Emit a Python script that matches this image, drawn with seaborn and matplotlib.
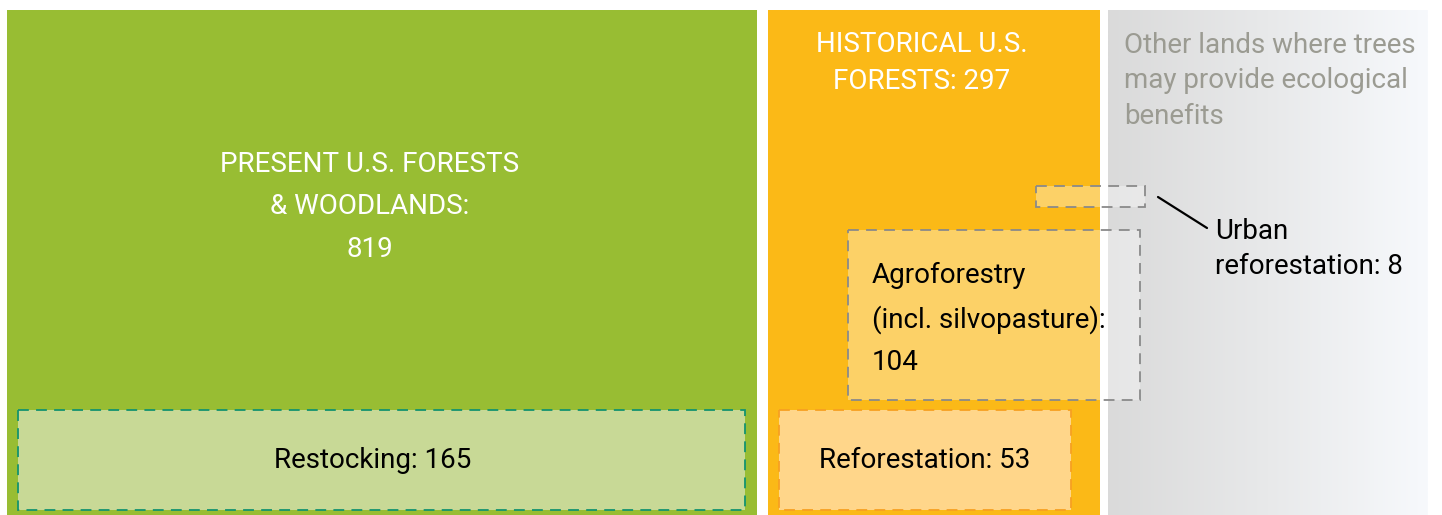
import numpy as np
import seaborn as sns
import matplotlib.pyplot as plt
from matplotlib.patches import Rectangle
from matplotlib.colors import LinearSegmentedColormap

# Data (million acres)
main_names = ["PRESENT U.S. FORESTS\n& WOODLANDS:", "HISTORICAL U.S.\nFORESTS:"]
main_values = [819, 297]
other_label = "Other lands where trees\nmay provide ecological\nbenefits"
opp_names = ["Restocking", "Reforestation", "Agroforestry\n(incl. silvopasture)", "Urban\nreforestation"]
opp_values = [165, 53, 104, 8]

sns.set_theme(style="white")
plt.rcParams["font.family"] = ["Roboto", "DejaVu Sans"]

W, H = 1442, 515
fig = plt.figure(figsize=(W / 100, H / 100), dpi=100)
ax = fig.add_axes([0, 0, 1, 1])
ax.set_xlim(0, W)
ax.set_ylim(H, 0)
ax.axis("off")

green = "#98bd33"
orange = "#fbb917"

# layout: (x, y, w, h) in pixel units
main_boxes = [(7, 10, 750, 505), (768, 10, 332, 505)]
other_box = (1108, 10, 320, 505)
opp_boxes = [(18, 410, 727, 100), (779, 410, 292, 100), (848, 230, 292, 170), (1036, 186, 109, 21)]

for (x, y, w, h), c in zip(main_boxes, [green, orange]):
    ax.add_patch(Rectangle((x, y), w, h, facecolor=c, edgecolor="none"))

# gray gradient block
cmap = LinearSegmentedColormap.from_list("g", ["#dadada", "#e8e9ea", "#f7f9fc"])
x, y, w, h = other_box
ax.imshow(np.linspace(0, 1, 256)[None, :], cmap=cmap, aspect="auto",
          extent=(x, x + w, y + h, y), zorder=1)

# opportunity boxes
x, y, w, h = opp_boxes[0]
ax.add_patch(Rectangle((x, y), w, h, facecolor="#c8d996", edgecolor="#13936f",
                       lw=1.3, ls=(0, (6, 4)), zorder=3))
x, y, w, h = opp_boxes[1]
ax.add_patch(Rectangle((x, y), w, h, facecolor="#ffd68a", edgecolor="#f7a021",
                       lw=1.3, ls=(0, (6, 4)), zorder=3))
for x, y, w, h in opp_boxes[2:]:
    ax.add_patch(Rectangle((x, y), w, h, facecolor=(1, 1, 1, 0.35), edgecolor="#8a8a8a",
                           lw=1.3, ls=(0, (6, 4)), zorder=3))

# leader line for urban
ax.plot([1158, 1207], [197, 228], color="black", lw=1.6, zorder=4)

fs = 20
ax.text(370, 207, f"{main_names[0]}\n{main_values[0]}", color="white", ha="center",
        va="center", fontsize=fs, linespacing=1.72, zorder=5)
ax.text(922, 63, f"{main_names[1]} {main_values[1]}", color="white", ha="center",
        va="center", fontsize=fs, linespacing=1.45, zorder=5)
ax.text(1124, 81, other_label, color="#9b9b92", ha="left", va="center",
        fontsize=fs, linespacing=1.4, zorder=5)

ax.text(373, 460, f"{opp_names[0]}: {opp_values[0]}", color="black", ha="center",
        va="center", fontsize=fs, zorder=5)
ax.text(925, 460, f"{opp_names[1]}: {opp_values[1]}", color="black", ha="center",
        va="center", fontsize=fs, zorder=5)
ax.text(872, 319, f"{opp_names[2]}:\n{opp_values[2]}", color="black", ha="left",
        va="center", fontsize=fs, linespacing=1.7, zorder=5)
ax.text(1215, 249, f"{opp_names[3]}: {opp_values[3]}", color="black", ha="left",
        va="center", fontsize=fs, linespacing=1.4, zorder=5)

fig.savefig("out.png", dpi=100, facecolor="white")
